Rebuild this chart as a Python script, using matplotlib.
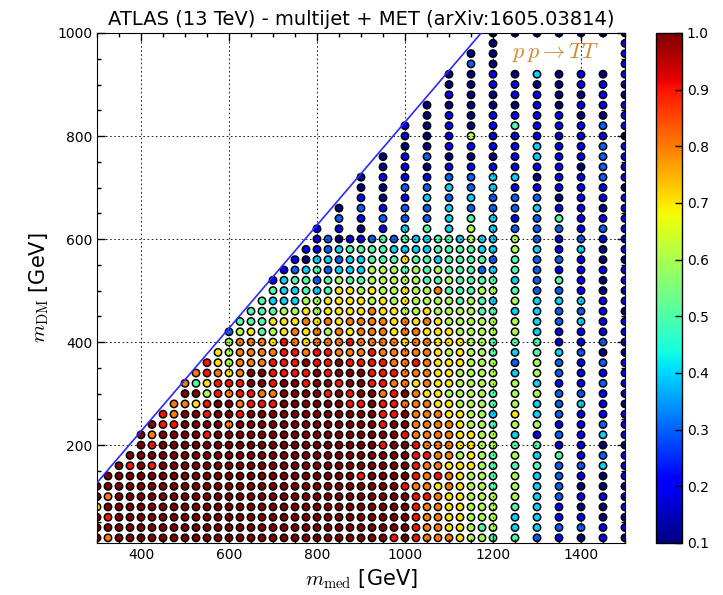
import numpy as np
import matplotlib
matplotlib.use('Agg')
import matplotlib.pyplot as plt
from matplotlib.ticker import MultipleLocator

plt.rcParams['mathtext.fontset'] = 'cm'

# colour level for every grid point:
# '0' -> 0.1 (dark blue) ... '9' -> 1.0 (dark red), '.' -> no point

# fine scan: m_med 300..1200 in 25 GeV, m_DM 600..20 in 20 GeV
med_fine = [300, 325, 350, 375, 400, 425, 450, 475, 500, 525, 550, 575,
            600, 625, 650, 675, 700, 725, 750, 775, 800, 825, 850, 875,
            900, 925, 950, 975, 1000, 1025, 1050, 1075, 1100, 1125, 1150, 1175, 1200]
dm_fine = [600, 580, 560, 540, 520, 500, 480, 460, 440, 420, 400, 380, 360, 340, 320,
           300, 280, 260, 240, 220, 200, 180, 160, 140, 120, 100, 80, 60, 40, 20]
eff_fine = [
    '.' * 20 + '12011242433443533',
    '.' * 19 + '112344443333444433',
    '.' * 18 + '1033233444644344442',
    '.' * 17 + '12342333555454544423',
    '.' * 16 + '134424544555554454444',
    '.' * 16 + '433434665655655744455',
    '.' * 15 + '4333556666565655554543',
    '.' * 14 + '44455656666766556555544',
    '.' * 13 + '444666767677776767655555',
    '.' * 12 + '2564567675767776776665555',
    '.' * 12 + '5777687677787777677666554',
    '.' * 11 + '65777788788777877777656554',
    '.' * 10 + '865777888988988887787666555',
    '.' * 9 + '7876799888898999888777665555',
    '.' * 8 + '74688899899899899887767665555',
    '.' * 8 + '9958' + '788779999898' + '9978976655554',
    '.' * 7 + '77689' + '978889999998' + '8988777665554',
    '.' * 6 + '879989' + '989999999999' + '9988977766553',
    '.' * 5 + '9889999' + '799999999999' + '9989977776554',
    '.' * 4 + '97999989' + '999999999999' + '9999877776655',
    '.' * 4 + '98999999' + '999999999999' + '9989987776655',
    '.' * 3 + '999999999' + '999999999999' + '9999988775654',
    '.' * 2 + '9898999999' + '999999999999' + '9999987766654',
    '.' * 1 + '99999999999' + '999999999999' + '8999987876554',
    '999999999999' + '999999999999' + '9999877676554',
    '979999999999' + '999999999999' + '9999988766555',
    '699999999999' + '999999999999' + '9999987766555',
    '989999999999' + '999999999999' + '9999987766555',
    '999999999999' + '999999999999' + '9999987766545',
    '979999999999' + '999999999999' + '9998987776554',
]

# coarse columns beyond 1200 GeV, same m_DM rows
med_side = [1250, 1300, 1350, 1400, 1450, 1500]
eff_side = [
    '521211', '531301', '422100', '421111', '324101', '422101', '533311',
    '332210', '532311', '531111', '441121', '343200', '252121', '352111',
    '531121', '552211', '532310', '632111', '551121', '312131', '441100',
    '534121', '442231', '532101', '532000', '532111', '431001', '331100',
    '332211', '421010',
]

# coarse scan above 600 GeV: m_med in 50 GeV steps
med_coarse = [800, 850, 900, 950, 1000, 1050, 1100, 1150, 1200,
              1250, 1300, 1350, 1400, 1450, 1500]
dm_coarse = [1000, 980, 960, 940, 920, 900, 880, 860, 840, 820,
             800, 780, 760, 740, 720, 700, 680, 660, 640, 620]
eff_coarse = [
    '.' * 8 + '0000000',
    '.' * 8 + '0' + '.' * 5 + '1',
    '.' * 7 + '00' + '.' * 5 + '1',
    '.' * 7 + '20' + '.' * 5 + '1',
    '.' * 6 + '001030101',
    '.' * 6 + '001100111',
    '.' * 6 + '100110010',
    '.' * 5 + '0000010111',
    '.' * 5 + '0101111001',
    '.' * 4 + '10101411121',
    '.' * 4 + '10151111110',
    '.' * 4 + '00111131121',
    '.' * 3 + '012000131121',
    '.' * 3 + '010111111021',
    '.' * 2 + '0111223301121',
    '.' * 2 + '0022323111110',
    '.' * 2 + '1013232220111',
    '.' * 1 + '02122322231101',
    '.' * 1 + '21222343124111',
    '110134353222121',
]

m_top = 173.

def unpack(meds, dms, rows):
    xs, ys, zs = [], [], []
    for dm, row in zip(dms, rows):
        if len(row) != len(meds):
            print('row length mismatch at', dm, len(row))
        for med, c in zip(meds, row):
            if c == '.':
                continue
            xs.append(med)
            ys.append(dm)
            zs.append(0.1 + 0.1 * int(c))
    return xs, ys, zs

x, y, z = [], [], []
for block in [(med_fine, dm_fine, eff_fine),
              (med_side, dm_fine, eff_side),
              (med_coarse, dm_coarse, eff_coarse)]:
    a, b, c = unpack(*block)
    x += a
    y += b
    z += c

fig = plt.figure(figsize=(7.23, 5.95), dpi=100)
ax = fig.add_axes([97/723., 52/595., 528/723., 510/595.])

sc = ax.scatter(x, y, c=z, cmap='jet', vmin=0.1, vmax=1.0, s=28,
                edgecolors='k', linewidths=1.1, zorder=1)

xl = np.array([300., 1500.])
ax.plot(xl, xl - m_top, '-', color='#2a2aff', lw=1.2, zorder=3)

ax.set_xlim(300, 1500)
ax.set_ylim(10, 1000)

ax.xaxis.set_major_locator(MultipleLocator(200))
ax.xaxis.set_minor_locator(MultipleLocator(50))
ax.yaxis.set_major_locator(MultipleLocator(200))
ax.yaxis.set_minor_locator(MultipleLocator(50))
ax.tick_params(which='both', direction='in', top=True, right=True, width=1)
ax.tick_params(which='major', length=6, labelsize=10)
ax.tick_params(which='minor', length=3)
ax.set_yticks([200, 400, 600, 800, 1000])

ax.set_axisbelow(False)
ax.grid(True, which='major', color='k', linestyle=(0, (2, 3)), linewidth=0.6)

ax.set_title('ATLAS (13 TeV) - multijet + MET (arXiv:1605.03814)', fontsize=14)
ax.set_xlabel(r'$m_{\rm med}$ [GeV]', fontsize=15)
ax.set_ylabel(r'$m_{\rm DM}$ [GeV]', fontsize=15)

ax.text(1243, 962, r'$p\,p \rightarrow TT$', color='#d2882e', fontsize=16,
        ha='left', va='center')

cax = fig.add_axes([656/723., 52/595., 26/723., 510/595.])
cb = fig.colorbar(sc, cax=cax, ticks=[0.1, 0.2, 0.3, 0.4, 0.5, 0.6, 0.7, 0.8, 0.9, 1.0])
cb.ax.tick_params(direction='in', length=5, width=1, labelsize=10)
cb.outline.set_linewidth(1)

fig.savefig('out.png', dpi=100)
